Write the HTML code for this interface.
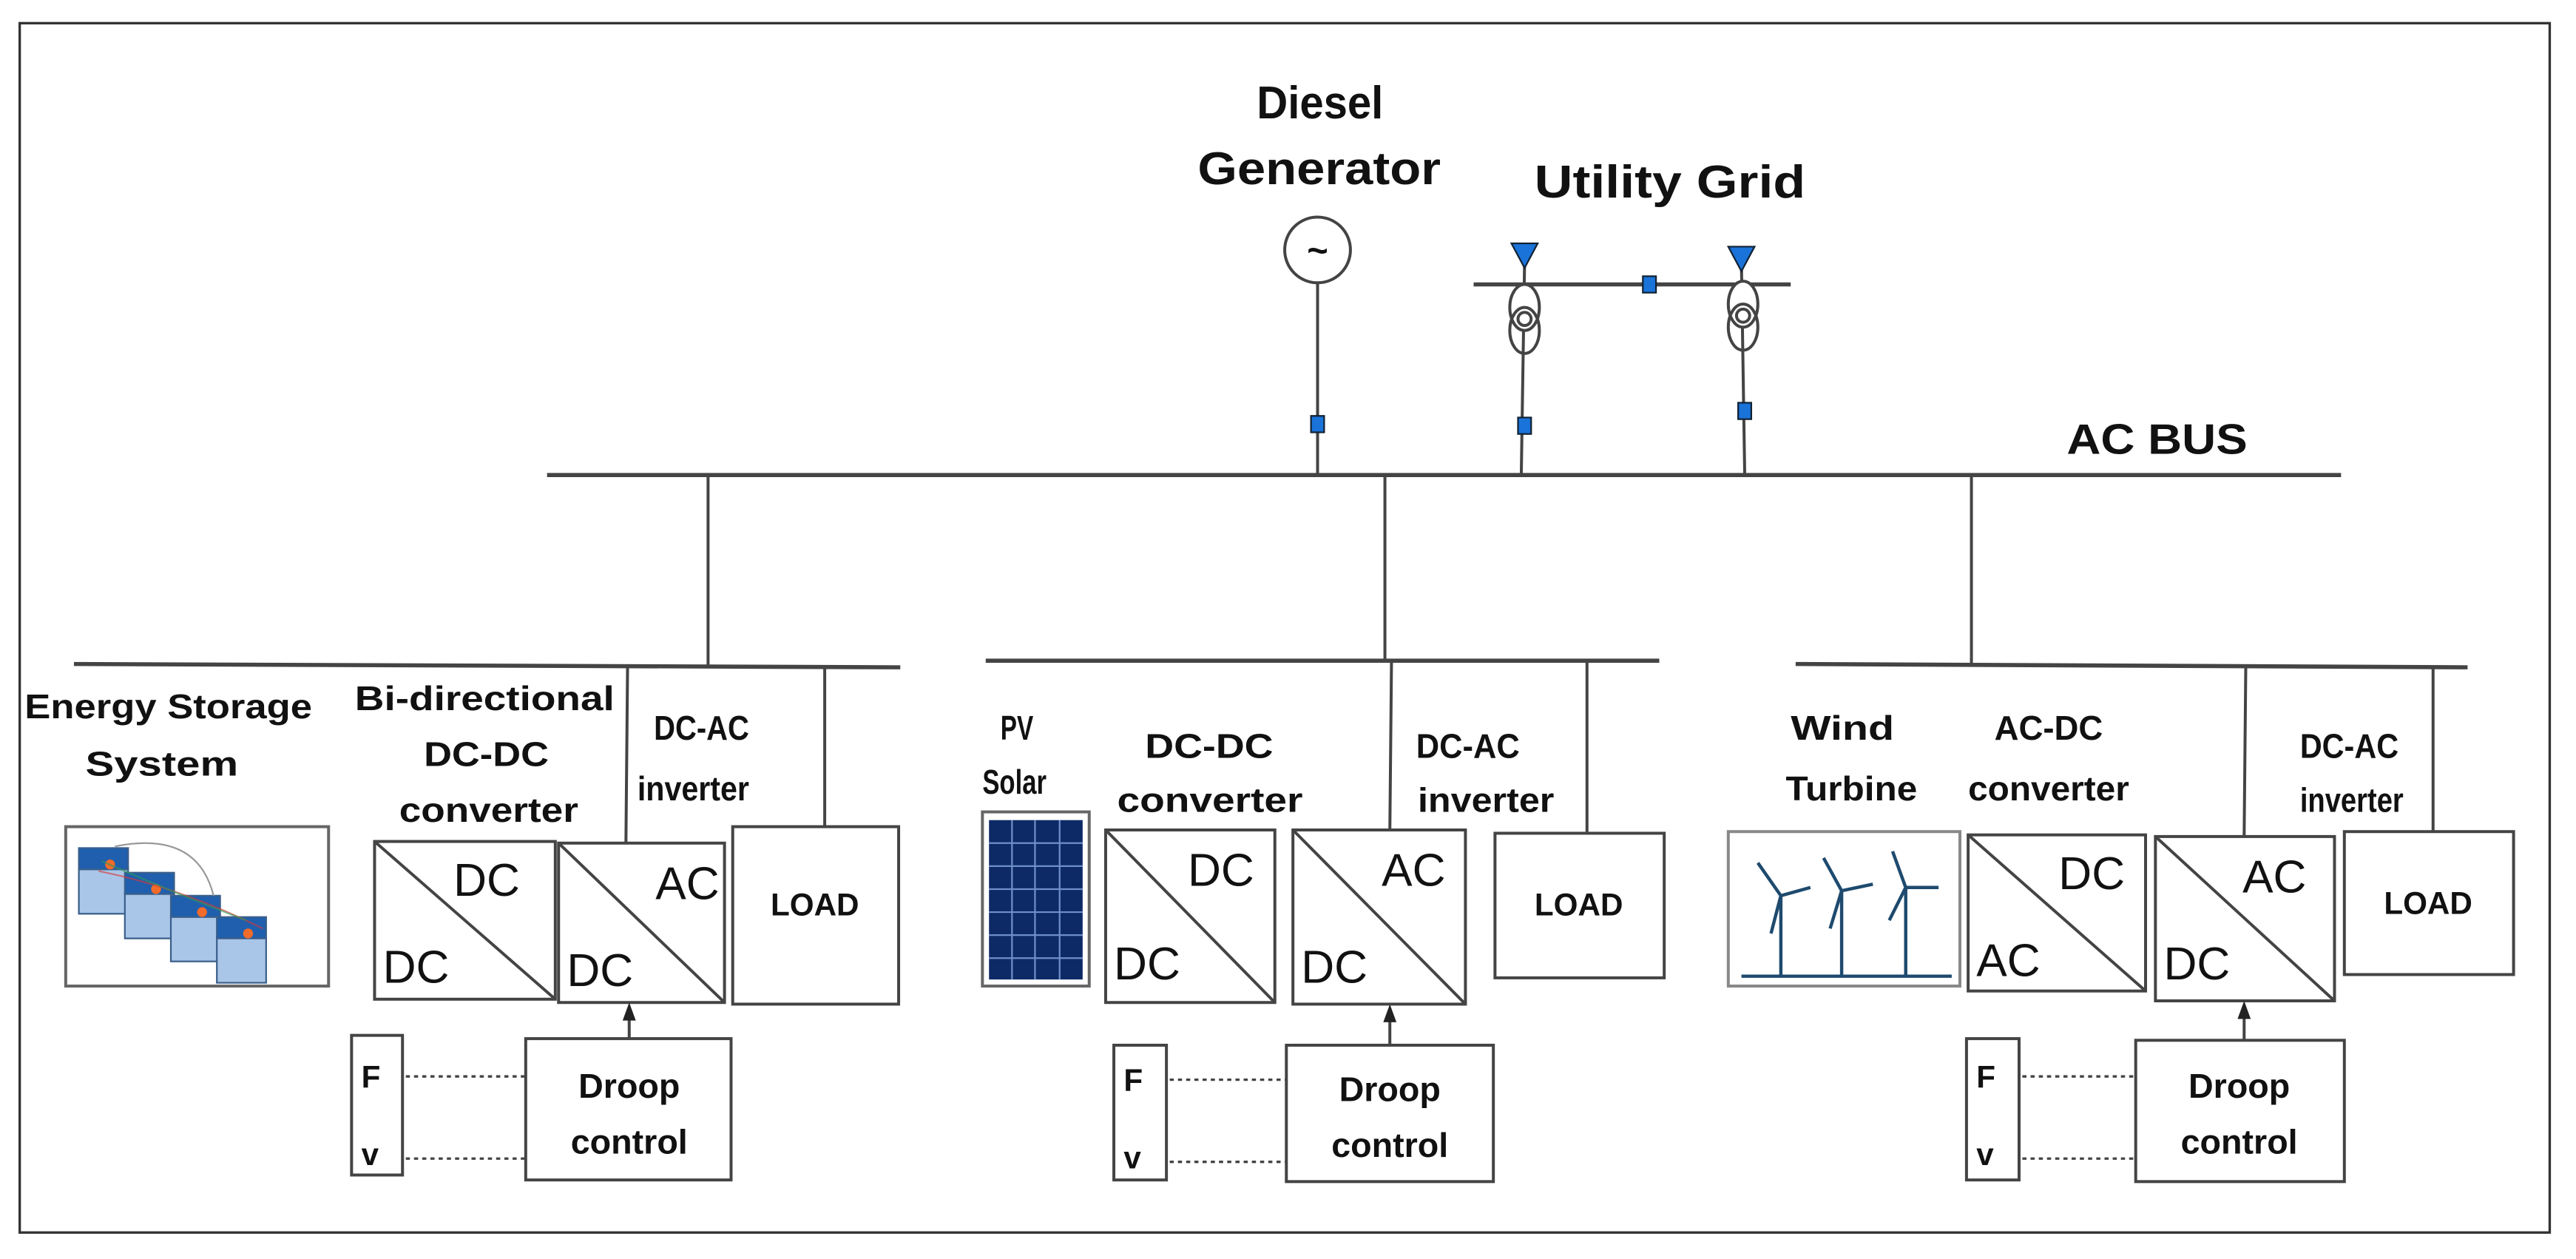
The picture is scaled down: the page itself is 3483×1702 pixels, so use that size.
<!DOCTYPE html>
<html><head><meta charset="utf-8"><style>html,body{margin:0;padding:0;background:#fff}svg{display:block}</style></head>
<body>
<svg width="3483" height="1702" viewBox="0 0 1568 766" xmlns="http://www.w3.org/2000/svg" font-family="Liberation Sans, sans-serif">
<rect width="1568" height="766" fill="#fff"/>
<rect x="12" y="14" width="1540" height="736" fill="none" stroke="#333" stroke-width="1.5"/>
<g font-weight="bold" fill="#111">
<text x="765" y="72" font-size="28" textLength="77" lengthAdjust="spacingAndGlyphs">Diesel</text>
<text x="729" y="112" font-size="28" textLength="148" lengthAdjust="spacingAndGlyphs">Generator</text>
<text x="934" y="120" font-size="28" textLength="165" lengthAdjust="spacingAndGlyphs">Utility Grid</text>
<text x="1258" y="276" font-size="26" textLength="110" lengthAdjust="spacingAndGlyphs">AC BUS</text>
<text x="15" y="437" font-size="21" textLength="175" lengthAdjust="spacingAndGlyphs">Energy Storage</text>
<text x="52" y="472" font-size="21" textLength="93" lengthAdjust="spacingAndGlyphs">System</text>
<text x="216" y="432" font-size="21" textLength="158" lengthAdjust="spacingAndGlyphs">Bi-directional</text>
<text x="258" y="466" font-size="21" textLength="76" lengthAdjust="spacingAndGlyphs">DC-DC</text>
<text x="243" y="500" font-size="21" textLength="109" lengthAdjust="spacingAndGlyphs">converter</text>
<text x="398" y="450" font-size="21" textLength="58" lengthAdjust="spacingAndGlyphs">DC-AC</text>
<text x="388" y="487" font-size="21" textLength="68" lengthAdjust="spacingAndGlyphs">inverter</text>
<text x="609" y="450" font-size="21" textLength="20" lengthAdjust="spacingAndGlyphs">PV</text>
<text x="598" y="483" font-size="21" textLength="39" lengthAdjust="spacingAndGlyphs">Solar</text>
<text x="697" y="461" font-size="21" textLength="78" lengthAdjust="spacingAndGlyphs">DC-DC</text>
<text x="680" y="494" font-size="21" textLength="113" lengthAdjust="spacingAndGlyphs">converter</text>
<text x="862" y="461" font-size="21" textLength="63" lengthAdjust="spacingAndGlyphs">DC-AC</text>
<text x="863" y="494" font-size="21" textLength="83" lengthAdjust="spacingAndGlyphs">inverter</text>
<text x="1090" y="450" font-size="21" textLength="63" lengthAdjust="spacingAndGlyphs">Wind</text>
<text x="1087" y="487" font-size="21" textLength="80" lengthAdjust="spacingAndGlyphs">Turbine</text>
<text x="1214" y="450" font-size="21" textLength="66" lengthAdjust="spacingAndGlyphs">AC-DC</text>
<text x="1198" y="487" font-size="21" textLength="98" lengthAdjust="spacingAndGlyphs">converter</text>
<text x="1400" y="461" font-size="21" textLength="60" lengthAdjust="spacingAndGlyphs">DC-AC</text>
<text x="1400" y="494" font-size="21" textLength="63" lengthAdjust="spacingAndGlyphs">inverter</text>
</g>
<g stroke="#444" stroke-width="1.8" fill="none">
<line x1="333" y1="289" x2="1425" y2="289" stroke-width="2.5"/>
<circle cx="802" cy="152" r="20"/>
<line x1="802" y1="172" x2="802" y2="289"/>
<line x1="897" y1="173" x2="1090" y2="173" stroke-width="2.5"/>
<line x1="928" y1="160" x2="926" y2="289"/>
<line x1="1060" y1="160" x2="1062" y2="289"/>
<ellipse cx="928" cy="187" rx="9" ry="14" fill="#fff"/>
<ellipse cx="928" cy="201" rx="9" ry="14" fill="none"/>
<circle cx="928" cy="194" r="4"/>
<ellipse cx="1061" cy="185" rx="9" ry="14" fill="#fff"/>
<ellipse cx="1061" cy="199" rx="9" ry="14" fill="none"/>
<circle cx="1061" cy="192" r="4"/>
<line x1="431" y1="289" x2="431" y2="405"/>
<line x1="843" y1="289" x2="843" y2="402"/>
<line x1="1200" y1="289" x2="1200" y2="405"/>
<line x1="45" y1="404" x2="548" y2="406" stroke-width="2.5"/>
<line x1="600" y1="402" x2="1010" y2="402" stroke-width="2.5"/>
<line x1="1093" y1="404" x2="1502" y2="406" stroke-width="2.5"/>
<line x1="382" y1="405" x2="381" y2="513"/>
<line x1="502" y1="405" x2="502" y2="503"/>
<line x1="847" y1="402" x2="846" y2="505"/>
<line x1="966" y1="402" x2="966" y2="507"/>
<line x1="1367" y1="405" x2="1366" y2="509"/>
<line x1="1481" y1="405" x2="1481" y2="506"/>
<rect x="40" y="503" width="160" height="97" stroke="#666"/>
<rect x="228" y="512" width="110" height="96"/><line x1="228" y1="512" x2="338" y2="608"/>
<rect x="340" y="513" width="101" height="97"/><line x1="340" y1="513" x2="441" y2="610"/>
<rect x="446" y="503" width="101" height="108"/>
<rect x="214" y="630" width="31" height="85"/>
<rect x="320" y="632" width="125" height="86"/>
<line x1="383" y1="632" x2="383" y2="620"/>
<rect x="598" y="494" width="65" height="106" stroke="#666"/>
<rect x="673" y="505" width="103" height="105"/><line x1="673" y1="505" x2="776" y2="610"/>
<rect x="787" y="505" width="105" height="106"/><line x1="787" y1="505" x2="892" y2="611"/>
<rect x="910" y="507" width="103" height="88"/>
<rect x="678" y="636" width="32" height="82"/>
<rect x="783" y="636" width="126" height="83"/>
<line x1="846" y1="636" x2="846" y2="621"/>
<rect x="1052" y="506" width="141" height="94" stroke="#888"/>
<rect x="1198" y="508" width="108" height="95"/><line x1="1198" y1="508" x2="1306" y2="603"/>
<rect x="1312" y="509" width="109" height="100"/><line x1="1312" y1="509" x2="1421" y2="609"/>
<rect x="1427" y="506" width="103" height="87"/>
<rect x="1197" y="632" width="32" height="86"/>
<rect x="1300" y="633" width="127" height="86"/>
<line x1="1366" y1="633" x2="1366" y2="620"/>
</g>
<g stroke="#444" stroke-width="1.5" stroke-dasharray="2.5,2.5">
<line x1="247" y1="655" x2="320" y2="655"/><line x1="247" y1="705" x2="320" y2="705"/>
<line x1="712" y1="657" x2="783" y2="657"/><line x1="712" y1="707" x2="783" y2="707"/>
<line x1="1231" y1="655" x2="1300" y2="655"/><line x1="1231" y1="705" x2="1300" y2="705"/>
</g>
<g fill="#222">
<polygon points="383,610 379,621 387,621"/>
<polygon points="846,611 842,622 850,622"/>
<polygon points="1366,609 1362,620 1370,620"/>
</g>
<g fill="#1a73d9" stroke="#123" stroke-width="1">
<rect x="798" y="253" width="8" height="10"/>
<rect x="924" y="254" width="8" height="10"/>
<rect x="1058" y="245" width="8" height="10"/>
<rect x="1000" y="168" width="8" height="10"/>
<polygon points="920,148 936,148 928,163"/>
<polygon points="1052,150 1068,150 1060,165"/>
</g>
<text x="802" y="160" font-size="22" font-weight="bold" text-anchor="middle" fill="#111">~</text>
<g font-size="28" fill="#111">
<text x="276" y="545">DC</text><text x="233" y="598">DC</text>
<text x="399" y="547">AC</text><text x="345" y="600">DC</text>
<text x="723" y="539">DC</text><text x="678" y="596">DC</text>
<text x="841" y="539">AC</text><text x="792" y="598">DC</text>
<text x="1253" y="541">DC</text><text x="1203" y="594">AC</text>
<text x="1365" y="543">AC</text><text x="1317" y="596">DC</text>
</g>
<g font-weight="bold" fill="#111" font-size="19">
<text x="496" y="557" text-anchor="middle">LOAD</text>
<text x="961" y="557" text-anchor="middle">LOAD</text>
<text x="1478" y="556" text-anchor="middle">LOAD</text>
<text x="383" y="668" text-anchor="middle" font-size="21">Droop</text>
<text x="383" y="702" text-anchor="middle" font-size="21">control</text>
<text x="846" y="670" text-anchor="middle" font-size="21">Droop</text>
<text x="846" y="704" text-anchor="middle" font-size="21">control</text>
<text x="1363" y="668" text-anchor="middle" font-size="21">Droop</text>
<text x="1363" y="702" text-anchor="middle" font-size="21">control</text>
<text x="220" y="662">F</text><text x="220" y="709">v</text>
<text x="684" y="664">F</text><text x="684" y="711">v</text>
<text x="1203" y="662">F</text><text x="1203" y="709">v</text>
</g>
<g stroke="#3a5f8a" stroke-width="1">
<g fill="#a9c6e8"><rect x="48" y="528" width="30" height="28"/><rect x="76" y="543" width="30" height="28"/><rect x="104" y="557" width="30" height="28"/><rect x="132" y="570" width="30" height="28"/></g>
<g fill="#1f5fae"><rect x="48" y="516" width="30" height="13"/><rect x="76" y="531" width="30" height="13"/><rect x="104" y="545" width="30" height="13"/><rect x="132" y="558" width="30" height="13"/></g>
<g fill="#f26b2a" stroke="none"><circle cx="67" cy="526" r="3"/><circle cx="95" cy="541" r="3"/><circle cx="123" cy="555" r="3"/><circle cx="151" cy="568" r="3"/></g>
</g>
<path d="M70 515 Q120 505 130 545" stroke="#999" fill="none"/>
<path d="M60 530 Q110 540 160 565" stroke="#d33" fill="none" opacity=".6"/>
<path d="M62 524 Q110 545 150 560" stroke="#2a9a5a" fill="none" opacity=".6"/>
<rect x="602" y="499" width="57" height="97" fill="#0d2a66"/>
<g stroke="#6f8fc8" stroke-width="1">
<line x1="616" y1="499" x2="616" y2="596"/><line x1="630" y1="499" x2="630" y2="596"/><line x1="645" y1="499" x2="645" y2="596"/>
<line x1="602" y1="513" x2="659" y2="513"/><line x1="602" y1="527" x2="659" y2="527"/><line x1="602" y1="541" x2="659" y2="541"/><line x1="602" y1="555" x2="659" y2="555"/><line x1="602" y1="569" x2="659" y2="569"/><line x1="602" y1="583" x2="659" y2="583"/>
</g>
<g stroke="#1e4a6e" stroke-width="2" fill="none">
<line x1="1060" y1="594" x2="1188" y2="594"/>
<line x1="1084" y1="545" x2="1084" y2="594"/><path d="M1084 545 L1070 525 M1084 545 L1102 540 M1084 545 L1078 568"/>
<line x1="1121" y1="542" x2="1121" y2="594"/><path d="M1121 542 L1110 522 M1121 542 L1140 538 M1121 542 L1114 565"/>
<line x1="1160" y1="540" x2="1160" y2="594"/><path d="M1160 540 L1152 518 M1160 540 L1180 540 M1160 540 L1150 560"/>
</g>
</svg>
</body></html>
